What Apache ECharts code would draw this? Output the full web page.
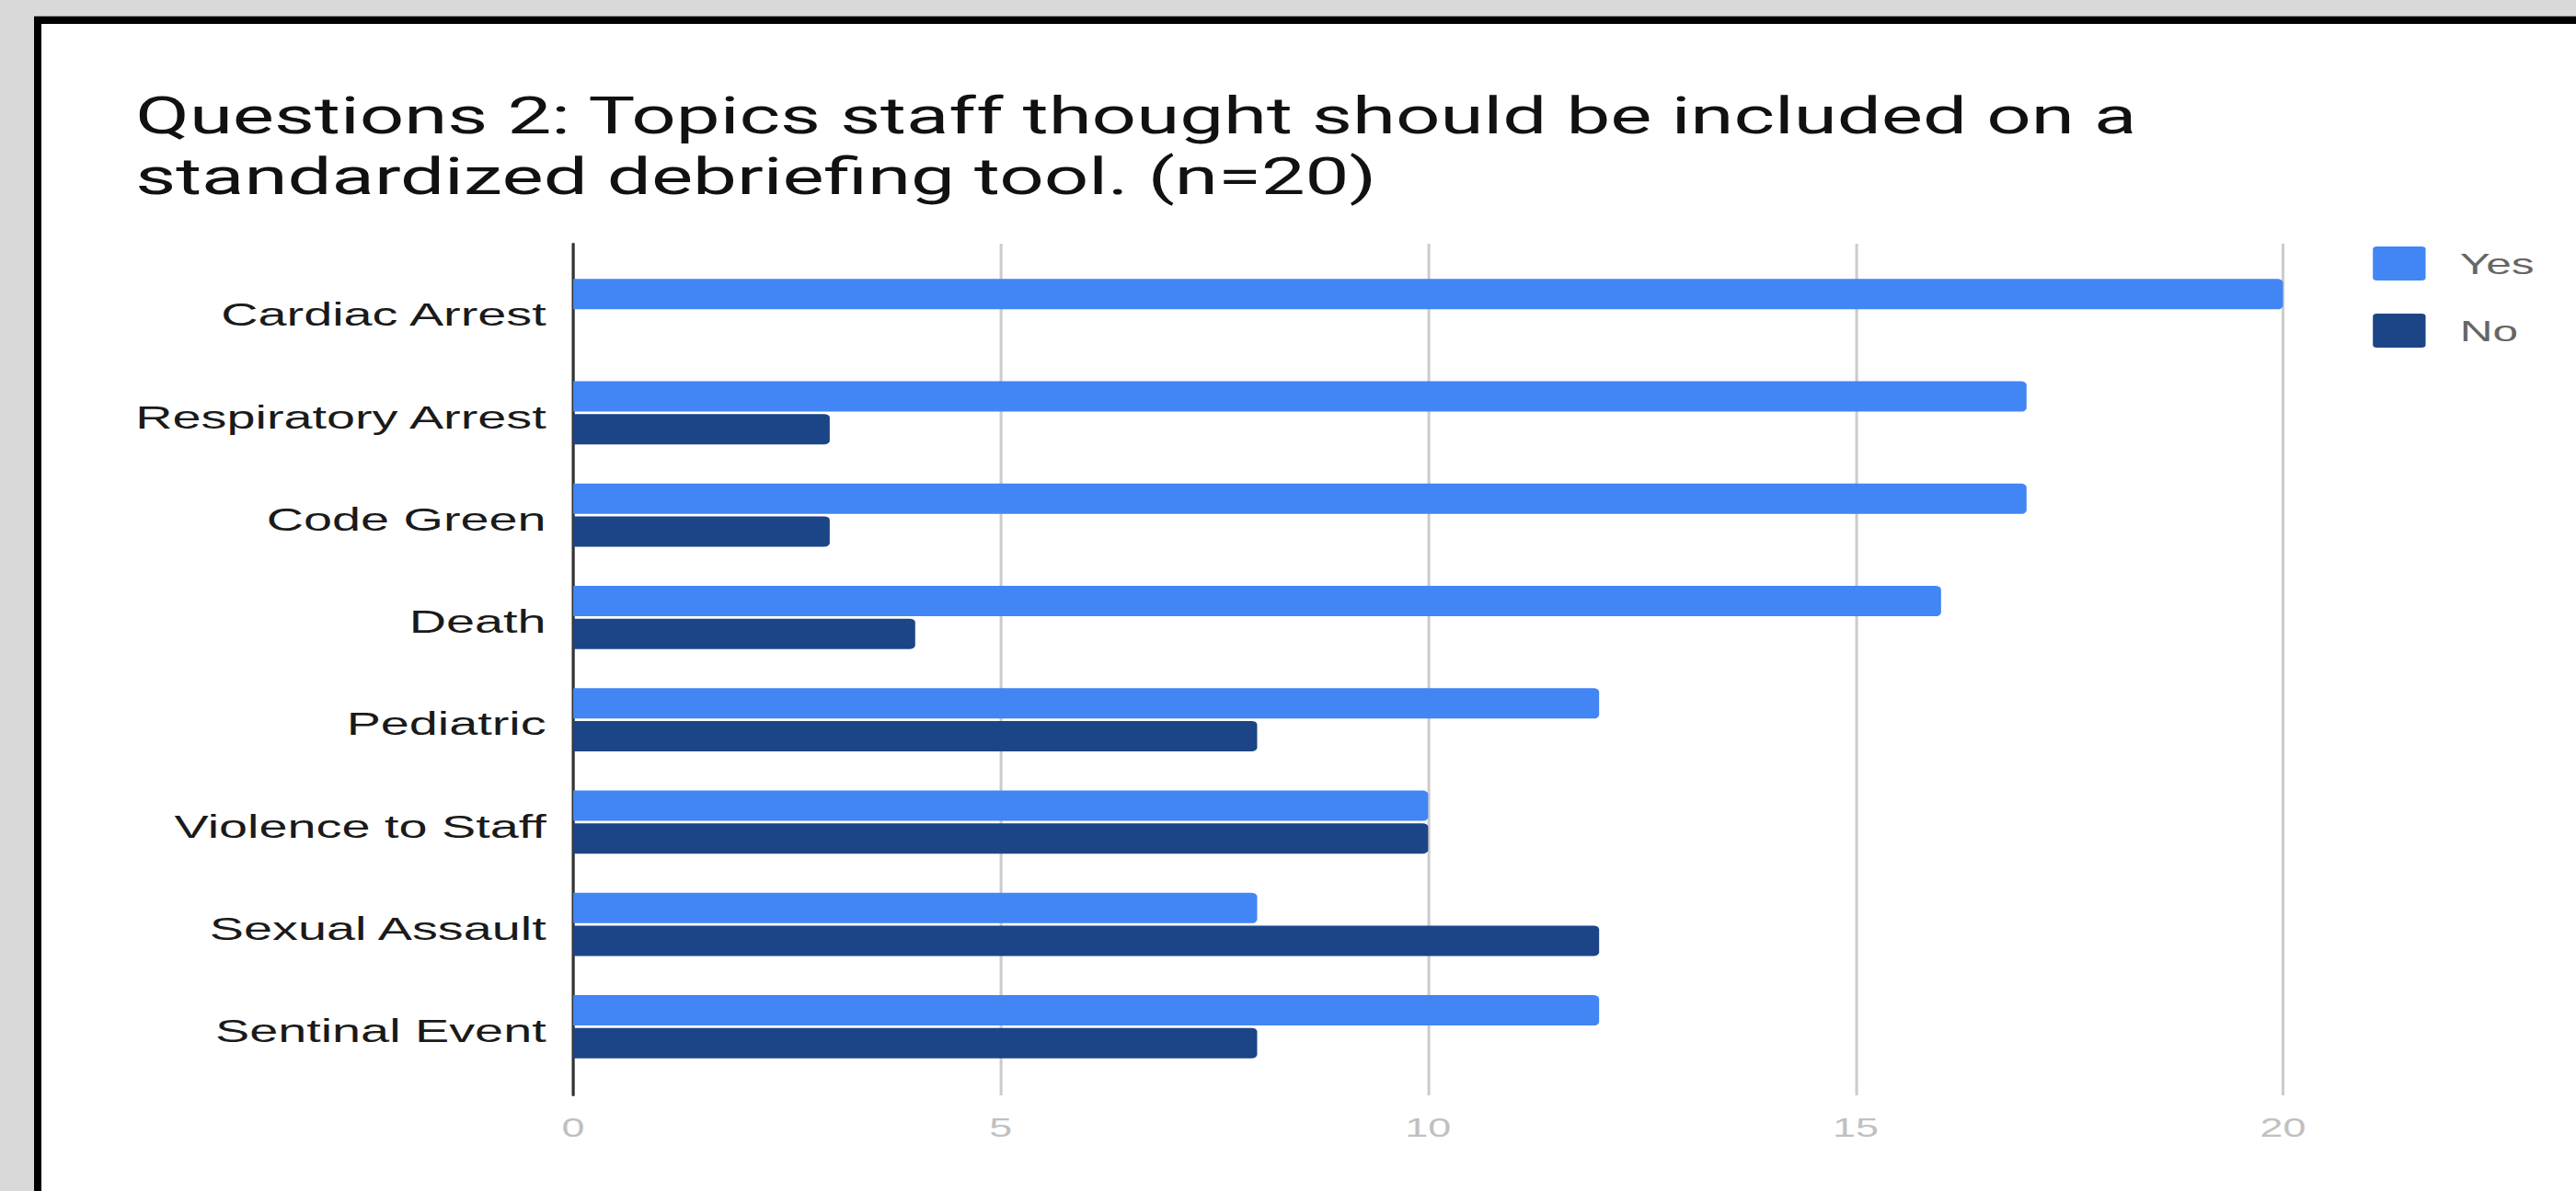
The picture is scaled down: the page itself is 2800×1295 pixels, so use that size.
<!DOCTYPE html>
<html><head><meta charset="utf-8">
<script src="https://cdn.jsdelivr.net/npm/echarts@6/dist/echarts.min.js"></script>
<style>
html,body{margin:0;padding:0;width:2800px;height:1295px;overflow:hidden;background:#d9d9d9;}
#frame{position:absolute;left:37px;top:18px;width:2800px;height:1400px;background:#fff;border-left:8px solid #000;border-top:8px solid #000;box-shadow:0 -1px 0 #9a9a9a;}
#chart{position:absolute;left:0;top:0;width:1807px;height:1295px;transform:scaleX(1.55);transform-origin:0 0;}
</style></head><body>
<div id="frame"></div><div id="chart"></div>
<script>
const categories = ['Cardiac Arrest','Respiratory Arrest','Code Green','Death','Pediatric','Violence to Staff','Sexual Assault','Sentinal Event'];
const yesValues = [20,17,17,16,12,10,8,12];
const noValues = [0,3,3,4,8,10,12,8];
const axisMin = 0, axisMax = 20, axisStep = 5;
const seriesNames = ['Yes','No'];
const colors = ['#4285f4','#1c4587'];
const titleText = 'Questions 2: Topics staff thought should be included on a\nstandardized debriefing tool. (n=20)';

const chart = echarts.init(document.getElementById('chart'), null, {renderer:'svg'});
chart.setOption({
  animation:false,
  backgroundColor:'transparent',
  title:{text:titleText,left:95,top:93,padding:0,
    textStyle:{fontFamily:'Roboto',fontSize:55,fontWeight:'normal',color:'#111',lineHeight:66}},
  legend:{data:seriesNames,orient:'vertical',left:1664,top:268,padding:0,itemWidth:37,itemHeight:37,itemGap:36,
    icon:'path://M3,0 H34 Q37,0 37,3 V34 Q37,37 34,37 H3 Q0,37 0,34 V3 Q0,0 3,0 Z',
    textStyle:{fontFamily:'Liberation Sans',fontSize:32,color:'#666',padding:[0,0,0,19]}},
  grid:[{left:402,right:206,top:265,bottom:104},{left:402,right:206,top:282,bottom:123}],
  xAxis:[
    {gridIndex:0,type:'value',min:axisMin,max:axisMax,interval:axisStep,
     axisLine:{show:false},axisTick:{show:false},
     splitLine:{show:true,lineStyle:{color:'#cccccc',width:2}},
     axisLabel:{margin:21,fontFamily:'Liberation Sans',fontSize:29,color:'#c0c0c0'}},
    {gridIndex:1,type:'value',min:axisMin,max:axisMax,show:false}
  ],
  yAxis:[
    {gridIndex:0,type:'value',min:0,max:1,
     axisLine:{show:true,onZero:false,lineStyle:{color:'#333',width:2}},
     axisTick:{show:false},axisLabel:{show:false},splitLine:{show:false}},
    {gridIndex:1,type:'category',data:categories,inverse:true,
     axisLine:{show:false},axisTick:{show:false},
     axisLabel:{margin:19,formatter:'{c|{value}}',
       rich:{c:{fontFamily:'Liberation Sans',fontSize:36,color:'#1a1a1a',lineHeight:36,padding:[8,0,0,0]}}}}
  ],
  series:[
    {name:seriesNames[0],type:'bar',xAxisIndex:1,yAxisIndex:1,data:yesValues,barWidth:33,barGap:'8%',
     itemStyle:{color:colors[0],borderRadius:[0,4,4,0]}},
    {name:seriesNames[1],type:'bar',xAxisIndex:1,yAxisIndex:1,data:noValues,barWidth:33,barGap:'8%',
     itemStyle:{color:colors[1],borderRadius:[0,4,4,0]}}
  ]
});
</script>
</body></html>
